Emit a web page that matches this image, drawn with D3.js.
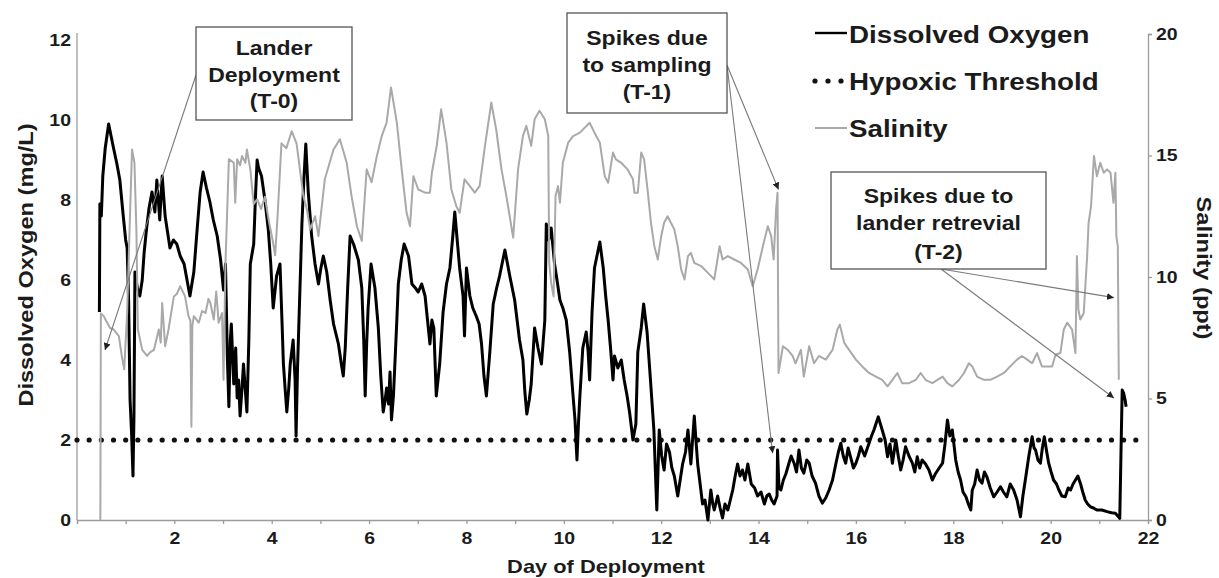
<!DOCTYPE html>
<html>
<head>
<meta charset="utf-8">
<script src="https://cdn.jsdelivr.net/npm/d3@7"></script>
<style>
  body { margin: 0; background: #fff; }
  text { font-family: "Liberation Sans", Arial, sans-serif; font-weight: bold; fill: #1b1b1b; }
</style>
</head>
<body>
<svg id="chart" width="1219" height="578"></svg>
<script>
// dissolved oxygen (mg/L), [day, value]
var oxygen = [
  [0.46,5.2],[0.47,7.9],[0.50,7.6],[0.53,8.6],[0.58,9.3],[0.65,9.9],[0.70,9.6],[0.75,9.3],[0.82,8.9],[0.88,8.5],
  [0.95,7.6],[1.00,7.0],[1.03,6.8],[1.06,5.5],[1.09,3.0],[1.12,2.2],[1.15,1.1],[1.17,2.6],[1.19,6.2],[1.24,5.8],
  [1.29,5.6],[1.34,6.0],[1.38,6.7],[1.43,7.3],[1.48,7.8],[1.54,8.2],[1.60,7.7],[1.64,8.5],[1.70,7.5],[1.75,8.6],
  [1.81,7.6],[1.86,7.2],[1.91,6.8],[1.98,7.0],[2.05,6.9],[2.12,6.6],[2.20,6.4],[2.26,6.0],[2.32,5.6],[2.40,6.2],
  [2.47,7.3],[2.53,8.2],[2.59,8.7],[2.66,8.3],[2.73,7.95],[2.80,7.5],[2.88,7.1],[2.95,6.5],[3.01,5.75],[3.05,6.4],
  [3.09,4.0],[3.12,2.83],[3.15,4.5],[3.17,4.9],[3.22,3.4],[3.26,4.3],[3.29,3.05],[3.32,3.5],[3.35,2.6],[3.39,3.3],
  [3.42,3.9],[3.46,3.2],[3.49,2.7],[3.53,4.5],[3.56,6.4],[3.63,6.9],[3.67,8.2],[3.70,9.0],[3.73,8.8],[3.79,8.6],
  [3.86,8.0],[3.93,7.25],[3.98,6.4],[4.03,5.3],[4.10,6.1],[4.17,6.4],[4.21,5.0],[4.24,3.9],[4.28,3.2],[4.31,2.7],
  [4.35,3.3],[4.38,3.9],[4.44,4.5],[4.48,3.5],[4.50,2.1],[4.53,3.8],[4.55,4.6],[4.59,6.2],[4.62,7.4],[4.66,8.5],
  [4.70,9.4],[4.75,8.2],[4.82,7.1],[4.89,6.4],[4.96,5.9],[5.01,6.3],[5.06,6.6],[5.13,6.2],[5.20,5.5],[5.27,4.9],
  [5.37,4.4],[5.43,3.9],[5.47,3.6],[5.51,4.3],[5.56,5.8],[5.61,7.1],[5.68,6.9],[5.78,6.5],[5.85,5.8],[5.89,4.5],
  [5.92,3.1],[5.95,4.4],[5.98,5.3],[6.04,6.4],[6.12,5.8],[6.19,4.8],[6.24,3.6],[6.29,2.7],[6.33,3.0],[6.36,3.3],
  [6.40,2.9],[6.43,3.7],[6.46,2.5],[6.50,3.1],[6.53,3.9],[6.57,5.0],[6.60,5.9],[6.66,6.5],[6.72,6.9],[6.81,6.6],
  [6.88,5.9],[6.95,5.8],[7.01,5.7],[7.08,5.9],[7.15,5.6],[7.20,5.0],[7.25,4.4],[7.29,5.0],[7.33,4.8],[7.38,3.1],
  [7.45,3.9],[7.52,5.2],[7.59,5.9],[7.66,6.3],[7.72,7.1],[7.76,7.7],[7.81,7.0],[7.86,6.3],[7.93,5.6],[7.96,4.6],
  [8.00,6.3],[8.07,5.6],[8.13,5.3],[8.20,5.1],[8.26,4.9],[8.31,4.4],[8.36,3.6],[8.41,3.1],[8.48,4.2],[8.55,5.4],
  [8.62,5.8],[8.68,6.1],[8.79,6.75],[8.89,6.1],[8.99,5.5],[9.04,5.0],[9.09,4.5],[9.16,4.0],[9.20,3.2],[9.24,2.65],
  [9.29,3.0],[9.33,3.4],[9.40,4.8],[9.47,4.3],[9.54,3.9],[9.61,5.0],[9.64,7.4],[9.69,7.0],[9.74,7.3],[9.81,6.4],
  [9.86,6.0],[9.92,5.5],[9.98,5.3],[10.05,5.0],[10.12,4.2],[10.19,3.1],[10.23,2.5],[10.27,1.5],[10.30,2.4],[10.33,3.1],
  [10.39,4.3],[10.46,4.7],[10.50,4.2],[10.53,3.5],[10.58,5.2],[10.63,6.3],[10.68,6.6],[10.74,6.95],[10.81,6.3],[10.86,5.6],
  [10.91,5.0],[10.96,4.3],[11.01,3.5],[11.04,4.1],[11.11,3.8],[11.18,4.0],[11.24,3.5],[11.30,3.1],[11.35,2.7],[11.42,2.0],
  [11.48,2.4],[11.52,4.2],[11.59,4.8],[11.64,5.4],[11.71,4.7],[11.78,3.5],[11.85,2.25],[11.91,0.25],[11.96,2.25],[12.01,1.6],
  [12.06,1.25],[12.11,1.9],[12.17,1.7],[12.22,1.3],[12.27,1.1],[12.34,0.6],[12.39,1.0],[12.44,1.4],[12.50,1.7],[12.55,2.25],
  [12.61,1.4],[12.68,2.6],[12.72,1.9],[12.75,1.4],[12.80,0.9],[12.85,0.4],[12.90,0.5],[12.96,0.0],[13.02,0.75],[13.06,0.4],
  [13.09,0.25],[13.16,0.6],[13.21,0.3],[13.26,0.05],[13.31,0.4],[13.37,0.25],[13.42,0.5],[13.47,0.75],[13.52,1.1],[13.57,1.4],
  [13.62,1.1],[13.67,1.25],[13.72,1.0],[13.78,1.4],[13.85,0.9],[13.92,0.8],[13.98,0.6],[14.05,0.7],[14.12,0.4],[14.17,0.6],
  [14.22,0.65],[14.27,0.5],[14.32,0.4],[14.38,0.6],[14.39,1.75],[14.42,0.8],[14.46,0.75],[14.51,1.0],[14.56,1.15],[14.62,1.4],
  [14.67,1.6],[14.73,1.42],[14.78,1.2],[14.83,1.75],[14.88,1.3],[14.93,1.17],[14.99,1.5],[15.04,1.42],[15.10,1.1],[15.17,0.92],
  [15.24,0.6],[15.31,0.42],[15.38,0.55],[15.45,0.75],[15.52,1.0],[15.59,1.42],[15.64,1.7],[15.69,1.92],[15.74,1.6],[15.79,1.42],
  [15.84,1.8],[15.89,1.58],[15.95,1.3],[16.00,1.42],[16.05,1.6],[16.10,1.83],[16.18,1.6],[16.27,1.92],[16.32,2.1],[16.37,2.25],
  [16.46,2.58],[16.54,2.25],[16.60,2.0],[16.65,1.58],[16.70,1.9],[16.75,1.42],[16.82,2.0],[16.87,1.6],[16.92,1.25],[16.97,1.5],
  [17.02,1.83],[17.09,1.6],[17.16,1.42],[17.21,1.2],[17.26,1.58],[17.31,1.3],[17.36,1.5],[17.43,1.4],[17.50,1.25],[17.57,1.0],
  [17.64,1.17],[17.71,1.3],[17.78,1.42],[17.83,1.9],[17.88,2.5],[17.93,2.1],[17.98,2.25],[18.05,1.5],[18.10,1.2],[18.15,1.0],
  [18.20,0.7],[18.26,0.58],[18.31,0.4],[18.36,0.25],[18.39,0.75],[18.44,0.9],[18.49,1.25],[18.54,1.0],[18.59,0.92],[18.64,1.2],
  [18.69,1.08],[18.76,0.8],[18.83,0.58],[18.90,0.7],[18.97,0.83],[19.03,0.7],[19.10,0.58],[19.17,0.9],[19.24,0.75],[19.31,0.5],
  [19.38,0.08],[19.43,0.6],[19.48,1.0],[19.55,1.58],[19.62,2.08],[19.66,1.8],[19.69,1.75],[19.74,1.5],[19.79,1.42],[19.83,1.8],
  [19.87,2.08],[19.92,1.7],[19.96,1.42],[20.01,1.2],[20.06,1.0],[20.12,0.9],[20.17,0.75],[20.23,0.6],[20.30,0.58],[20.36,0.8],
  [20.41,0.75],[20.46,0.9],[20.51,1.0],[20.56,1.1],[20.61,0.92],[20.66,0.7],[20.71,0.5],[20.76,0.4],[20.82,0.33],[20.88,0.3],
  [20.95,0.25],[21.05,0.25],[21.16,0.21],[21.25,0.18],[21.33,0.17],[21.38,0.1],[21.42,0.04],[21.45,2.0],[21.47,3.25],[21.50,3.17],
  [21.53,3.0],[21.55,2.83]
];

// salinity (ppt), [day, value]
var salinity = [
  [0.48,0],[0.49,8.5],[0.55,8.39],[0.62,8.12],[0.68,7.9],[0.75,7.84],[0.86,7.57],[0.92,6.75],[0.97,6.2],[1.03,8.52],
  [1.08,11.96],[1.13,15.25],[1.18,14.7],[1.22,11.96],[1.25,7.84],[1.34,7.0],[1.44,6.75],[1.50,6.9],[1.58,7.0],[1.68,7.84],
  [1.72,7.3],[1.75,8.93],[1.81,7.15],[1.88,7.84],[1.99,9.2],[2.05,9.3],[2.12,9.62],[2.22,9.2],[2.29,8.39],[2.33,8.2],
  [2.35,3.84],[2.37,8.0],[2.40,8.39],[2.50,8.12],[2.57,8.6],[2.64,8.52],[2.70,9.1],[2.74,8.93],[2.81,8.25],[2.86,9.4],
  [2.91,8.12],[2.98,8.52],[3.01,5.77],[3.05,10.58],[3.12,14.85],[3.22,14.7],[3.25,13.06],[3.29,14.85],[3.35,14.6],[3.39,14.98],
  [3.46,14.7],[3.49,15.25],[3.56,14.43],[3.63,13.0],[3.70,13.2],[3.78,12.8],[3.86,13.3],[3.95,12.2],[4.02,11.5],[4.07,10.9],
  [4.12,12.5],[4.20,15.5],[4.30,15.3],[4.41,16.0],[4.51,15.5],[4.65,13.33],[4.72,12.8],[4.79,11.96],[4.89,12.5],[4.96,11.68],
  [5.09,14.02],[5.27,15.25],[5.40,15.67],[5.54,14.7],[5.64,13.33],[5.75,12.09],[5.85,11.48],[5.95,14.43],[6.05,13.9],[6.16,14.98],
  [6.26,15.8],[6.36,16.35],[6.45,17.8],[6.57,16.35],[6.67,14.43],[6.77,12.64],[6.84,12.09],[6.91,14.15],[7.01,13.6],[7.15,13.47],
  [7.25,13.47],[7.29,14.29],[7.39,15.4],[7.48,16.9],[7.59,15.53],[7.69,13.6],[7.79,12.92],[7.86,12.64],[7.96,14.02],[8.07,13.74],
  [8.17,13.47],[8.27,13.74],[8.38,15.4],[8.51,17.18],[8.61,16.08],[8.72,14.43],[8.82,13.33],[8.96,11.62],[9.06,14.43],[9.16,15.8],
  [9.23,16.22],[9.33,15.4],[9.40,16.49],[9.50,16.84],[9.61,16.49],[9.68,15.8],[9.70,10.58],[9.74,9.75],[9.79,9.2],[9.83,13.33],
  [9.88,13.74],[9.92,13.06],[9.98,14.7],[10.09,15.53],[10.19,15.8],[10.33,15.94],[10.53,16.35],[10.63,15.94],[10.74,15.53],[10.84,14.15],
  [10.91,13.88],[11.01,15.12],[11.07,14.84],[11.18,14.7],[11.31,14.43],[11.42,14.02],[11.45,13.47],[11.52,13.47],[11.59,15.12],[11.65,14.84],
  [11.72,13.6],[11.79,12.23],[11.86,11.27],[11.93,10.72],[12.0,11.68],[12.06,12.23],[12.13,12.5],[12.2,12.23],[12.27,11.96],[12.34,11.27],
  [12.41,10.31],[12.48,9.9],[12.55,10.86],[12.61,10.99],[12.68,10.58],[12.82,10.45],[12.96,10.17],[13.09,9.9],[13.2,11.27],[13.26,10.72],
  [13.37,10.86],[13.5,10.72],[13.64,10.58],[13.78,10.31],[13.88,9.62],[13.98,10.31],[14.09,11.27],[14.19,12.09],[14.26,11.68],[14.31,10.72],
  [14.36,12.78],[14.39,13.47],[14.41,6.05],[14.5,7.15],[14.6,7.0],[14.7,6.75],[14.76,6.45],[14.87,7.0],[14.93,5.9],[15.04,7.15],
  [15.14,6.45],[15.24,6.75],[15.38,6.6],[15.52,7.0],[15.62,7.84],[15.67,8.04],[15.76,7.29],[15.86,7.0],[16.0,6.6],[16.13,6.32],
  [16.27,6.05],[16.41,5.9],[16.54,5.77],[16.65,5.5],[16.75,5.77],[16.85,6.05],[16.95,5.63],[17.09,5.63],[17.23,5.77],[17.33,6.05],
  [17.43,5.77],[17.57,5.63],[17.78,5.9],[17.88,5.63],[17.98,5.5],[18.12,5.77],[18.22,6.05],[18.32,6.45],[18.39,6.32],[18.49,5.9],
  [18.63,5.77],[18.76,5.77],[18.9,5.9],[19.04,6.05],[19.17,6.32],[19.31,6.6],[19.41,6.75],[19.52,6.6],[19.62,6.45],[19.72,6.87],
  [19.82,6.32],[19.92,6.32],[20.03,6.32],[20.1,6.8],[20.2,6.87],[20.27,7.84],[20.34,8.12],[20.44,7.84],[20.51,6.87],[20.54,10.86],
  [20.57,8.66],[20.61,8.25],[20.68,8.52],[20.75,10.86],[20.78,12.23],[20.83,12.92],[20.89,14.98],[20.95,14.15],[21.02,14.7],[21.09,14.29],
  [21.16,14.43],[21.23,14.29],[21.29,13.06],[21.33,14.29],[21.35,11.68],[21.38,11.27],[21.4,5.77]
];

var hypoxicThreshold = 2;
var thresholdSpan = [0, 21.9];

var dayTicks = [0,1,2,3,4,5,6,7,8,9,10,11,12,13,14,15,16,17,18,19,20,21,22];
var oxygenTicks = [0,2,4,6,8,10,12];
var salinityTicks = [0,5,10,15,20];

var legendLabels = ["Dissolved Oxygen", "Hypoxic Threshold", "Salinity"];

// callouts: box in pixels, arrow targets in data units
var notes = [
  { lines: ["Lander", "Deployment", "(T-0)"], box: [196, 27, 156, 93], base: [55, 82, 108],
    from: [196, 75], to: [{ day: 0.575, axis: "do", v: 4.25 }] },
  { lines: ["Spikes due", "to sampling", "(T-1)"], box: [567, 13, 160, 100], base: [45, 72, 99],
    from: [727, 65], to: [{ day: 14.41, axis: "sal", v: 13.6 }, { day: 14.29, axis: "do", v: 1.67 }] },
  { lines: ["Spikes due to", "lander retrevial", "(T-2)"], box: [831, 172, 215, 97], base: [203, 230, 259],
    from: [941, 269], to: [{ day: 21.3, axis: "sal", v: 9.15 }, { day: 21.3, axis: "do", v: 3.05 }] }
];

var STRETCH = 1.18;

function widen(sel, k) {
  sel.each(function () {
    var w = this.getComputedTextLength();
    if (w > 0) d3.select(this).attr("textLength", w * k).attr("lengthAdjust", "spacingAndGlyphs");
  });
}

var svg = d3.select("#chart");

var x = d3.scaleLinear().domain([0, 22]).range([77, 1148]);
var yDO = d3.scaleLinear().domain([0, 12]).range([520, 40]);
var ySal = d3.scaleLinear().domain([0, 20]).range([520, 34]);

var axisColor = "#9c9c9c";

// left axis
var gl = svg.append("g").attr("transform", "translate(77,0)")
  .call(d3.axisLeft(yDO).tickValues(oxygenTicks).tickSize(0).tickPadding(6));
gl.select(".domain").remove();
svg.append("line").attr("x1", 77).attr("x2", 77).attr("y1", 33).attr("y2", 520)
  .attr("stroke", axisColor).attr("stroke-width", 1.3);

// bottom axis
var gb = svg.append("g").attr("transform", "translate(0,520)")
  .call(d3.axisBottom(x).tickValues(dayTicks).tickSize(4).tickPadding(8)
    .tickFormat(function (d) { return (d % 2 == 0 && d > 0) ? d : ""; }));
gb.select(".domain").attr("stroke", axisColor).attr("stroke-width", 1.3);
gb.selectAll(".tick line").attr("stroke", axisColor).attr("stroke-width", 1.3);

// right axis
var gr = svg.append("g").attr("transform", "translate(1148,0)")
  .call(d3.axisRight(ySal).tickValues(salinityTicks).tickSize(4).tickPadding(4));
gr.select(".domain").attr("stroke", axisColor).attr("stroke-width", 1.3);
gr.selectAll(".tick line").attr("stroke", axisColor).attr("stroke-width", 1.3);

[gl, gb, gr].forEach(function (g) {
  g.selectAll("text").attr("font-size", 16.5).attr("font-family", null).attr("fill", "#1b1b1b");
  widen(g.selectAll("text"), STRETCH);
});

// axis titles
var xt = svg.append("text").attr("x", 606).attr("y", 573).attr("text-anchor", "middle")
  .attr("font-size", 18.5).text("Day of Deployment");
widen(xt, STRETCH);
var ylt = svg.append("text").attr("transform", "translate(33,265) rotate(-90)").attr("text-anchor", "middle")
  .attr("font-size", 20).text("Dissolved Oxygen (mg/L)");
widen(ylt, STRETCH);
var yrt = svg.append("text").attr("transform", "translate(1197,268) rotate(90)").attr("text-anchor", "middle")
  .attr("font-size", 20).text("Salinity (ppt)");
widen(yrt, STRETCH);

// hypoxic threshold, dotted
var dotGap = x(0.25) - x(0);
svg.append("line")
  .attr("x1", x(thresholdSpan[0])).attr("x2", x(thresholdSpan[1]))
  .attr("y1", yDO(hypoxicThreshold)).attr("y2", yDO(hypoxicThreshold))
  .attr("stroke", "#111").attr("stroke-width", 5.2)
  .attr("stroke-linecap", "round").attr("stroke-dasharray", "0," + dotGap);

// series
var lineDO = d3.line().x(function (d) { return x(d[0]); }).y(function (d) { return yDO(d[1]); });
var lineSal = d3.line().x(function (d) { return x(d[0]); }).y(function (d) { return ySal(d[1]); });

svg.append("path").datum(oxygen).attr("d", lineDO)
  .attr("fill", "none").attr("stroke", "#000").attr("stroke-width", 3).attr("stroke-linejoin", "round");

svg.append("path").datum(salinity).attr("d", lineSal)
  .attr("fill", "none").attr("stroke", "#a9a9a9").attr("stroke-width", 2).attr("stroke-linejoin", "round");

// callouts
svg.append("defs").append("marker")
  .attr("id", "tip").attr("viewBox", "0 0 10 10").attr("refX", 10).attr("refY", 5)
  .attr("markerWidth", 7).attr("markerHeight", 7).attr("markerUnits", "userSpaceOnUse")
  .attr("orient", "auto")
  .append("path").attr("d", "M0,0L10,5L0,10Z").attr("fill", "#222");

notes.forEach(function (n) {
  n.to.forEach(function (t) {
    var ty = t.axis == "do" ? yDO(t.v) : ySal(t.v);
    svg.append("line")
      .attr("x1", n.from[0]).attr("y1", n.from[1])
      .attr("x2", x(t.day)).attr("y2", ty)
      .attr("stroke", "#7a7a7a").attr("stroke-width", 1.1)
      .attr("marker-end", "url(#tip)");
  });
  svg.append("rect")
    .attr("x", n.box[0]).attr("y", n.box[1]).attr("width", n.box[2]).attr("height", n.box[3])
    .attr("fill", "#fff").attr("stroke", "#555").attr("stroke-width", 1.3);
  n.lines.forEach(function (s, i) {
    var t = svg.append("text")
      .attr("x", n.box[0] + n.box[2] / 2).attr("y", n.base[i])
      .attr("text-anchor", "middle").attr("font-size", 19.5).text(s);
    widen(t, STRETCH);
  });
});

// legend
var lg = svg.append("g");
lg.append("line").attr("x1", 815).attr("x2", 847).attr("y1", 33).attr("y2", 33)
  .attr("stroke", "#000").attr("stroke-width", 2.4);
[815, 828, 841].forEach(function (cx) {
  lg.append("circle").attr("cx", cx).attr("cy", 81).attr("r", 2.6).attr("fill", "#111");
});
lg.append("line").attr("x1", 815).attr("x2", 847).attr("y1", 128).attr("y2", 128)
  .attr("stroke", "#a9a9a9").attr("stroke-width", 2);
var legendBase = [43, 90, 137];
legendLabels.forEach(function (s, i) {
  var t = lg.append("text").attr("x", 849).attr("y", legendBase[i]).attr("font-size", 23.5).text(s);
  widen(t, STRETCH);
});
</script>
</body>
</html>
